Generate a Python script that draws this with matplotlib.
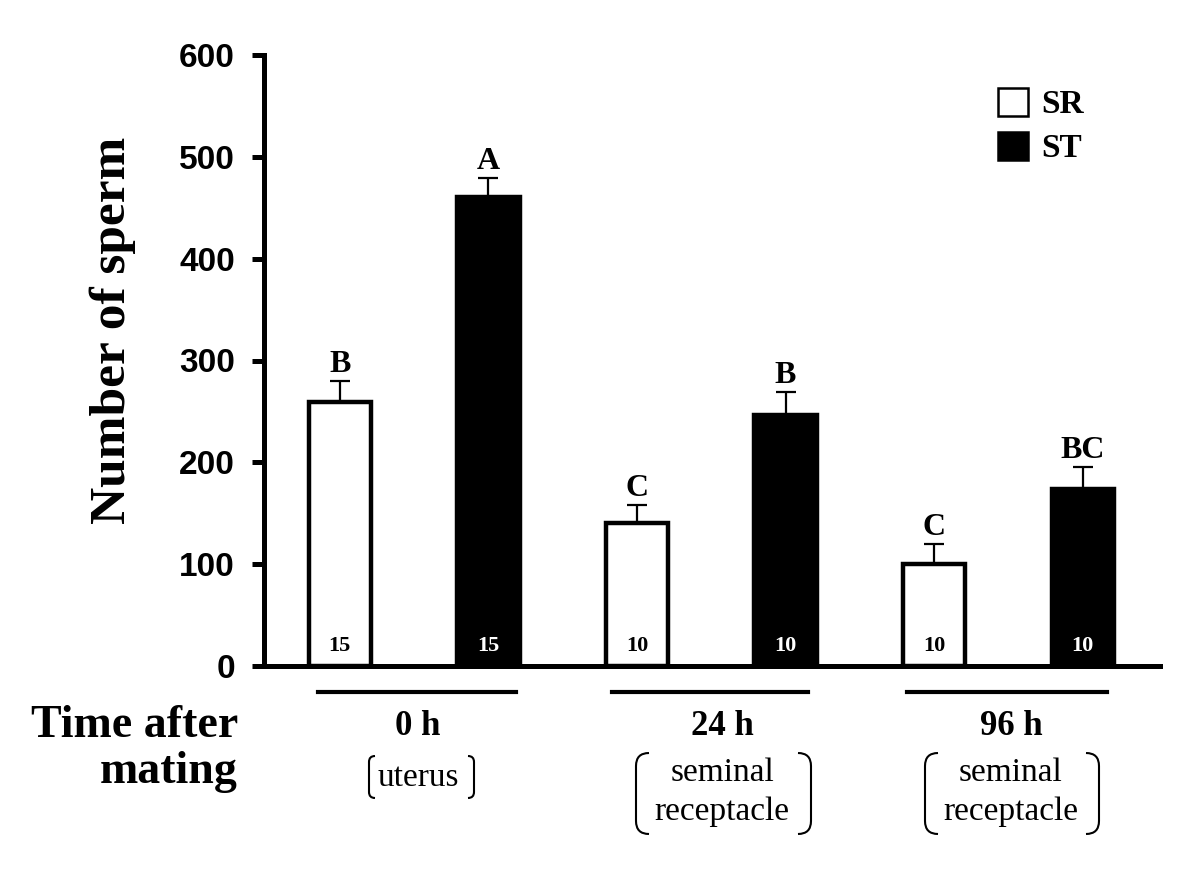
import matplotlib
matplotlib.use("Agg")
import matplotlib.pyplot as plt
from matplotlib.patches import Patch, PathPatch
from matplotlib.path import Path
from matplotlib.lines import Line2D

plt.rcParams['font.family'] = ['Liberation Serif', 'DejaVu Serif']

groups = ["0 h", "24 h", "96 h"]
sites = [["uterus"], ["seminal", "receptacle"], ["seminal", "receptacle"]]
series = ["SR", "ST"]
sr_mean = [259, 140, 100]
st_mean = [461, 246, 174]
sr_err = [21, 18, 20]
st_err = [18, 23, 21]
sr_letters = ["B", "C", "C"]
st_letters = ["A", "B", "BC"]
sr_n = [15, 10, 10]
st_n = [15, 10, 10]

W, H = 1200, 875
fig = plt.figure(figsize=(12, 8.75), dpi=100)

def fx(px):
    return px / W

def fy(py):
    return 1 - py / H

ax = fig.add_axes([fx(264), fy(666), fx(1160) - fx(264), fy(55) - fy(666)])

xs_sr = [0, 2, 4]
xs_st = [1, 3, 5]
bw = 0.42
ax.bar(xs_sr, sr_mean, width=bw, color="white", edgecolor="black", linewidth=3.2, zorder=3)
ax.bar(xs_st, st_mean, width=bw, color="black", edgecolor="black", linewidth=3.2, zorder=3)
ax.errorbar(xs_sr, sr_mean, yerr=[[0] * 3, sr_err], fmt="none", ecolor="black",
            elinewidth=1.6, capsize=7, capthick=1.6, zorder=2)
ax.errorbar(xs_st, st_mean, yerr=[[0] * 3, st_err], fmt="none", ecolor="black",
            elinewidth=1.6, capsize=7, capthick=1.6, zorder=2)

for x, m, e, l, n in zip(xs_sr, sr_mean, sr_err, sr_letters, sr_n):
    ax.text(x, m + e + 9, l, ha="center", va="baseline", fontsize=23, fontweight="bold")
    ax.text(x, 15, str(n), ha="center", va="baseline", fontsize=16, fontweight="bold", color="black", zorder=4)
for x, m, e, l, n in zip(xs_st, st_mean, st_err, st_letters, st_n):
    ax.text(x, m + e + 9, l, ha="center", va="baseline", fontsize=23, fontweight="bold")
    ax.text(x, 15, str(n), ha="center", va="baseline", fontsize=16, fontweight="bold", color="white", zorder=4)

ax.set_xlim(-0.51, 5.52)
ax.set_ylim(0, 600)
ax.set_yticks(range(0, 601, 100))
ax.set_xticks([])
for s in ["top", "right"]:
    ax.spines[s].set_visible(False)
for s in ["left", "bottom"]:
    ax.spines[s].set_linewidth(3.6)
ax.tick_params(axis="y", direction="out", length=9, width=3.6, pad=12)
for t in ax.get_yticklabels():
    t.set_fontfamily(["Liberation Sans", "DejaVu Sans"])
    t.set_fontweight("bold")
    t.set_fontsize(24)

fig.text(fx(113), fy(330), "Number of sperm", rotation=90, ha="center", va="center",
         fontsize=37, fontweight="bold")

handles = [Patch(facecolor="white", edgecolor="black", linewidth=1.8),
           Patch(facecolor="black", edgecolor="black", linewidth=1.8)]
ax.legend(handles, series, loc="upper left", bbox_to_anchor=(fx(998), fy(88)),
          bbox_transform=fig.transFigure, frameon=False, borderpad=0, borderaxespad=0,
          prop={"size": 24, "weight": "bold"}, handlelength=0.9, handleheight=0.9,
          handletextpad=0.4, labelspacing=0.35)

# group underlines
lines_px = [(318, 516), (612, 808), (907, 1107)]
for (a, b) in lines_px:
    fig.add_artist(Line2D([fx(a), fx(b)], [fy(692), fy(692)], color="black", lw=3))

centers = [418, 722, 1011]
for c, g in zip(centers, groups):
    fig.text(fx(c), fy(735), g, ha="center", va="baseline", fontsize=25, fontweight="bold")

fig.text(fx(238), fy(737), "Time after", ha="right", va="baseline", fontsize=33, fontweight="bold")
fig.text(fx(238), fy(783), "mating", ha="right", va="baseline", fontsize=33, fontweight="bold")


def bracket(xl, xr, yt, yb, r=7):
    for side in (-1, 1):
        x0 = xl if side == -1 else xr
        verts = [(x0 - side * r, yt), (x0, yt), (x0, yt + r), (x0, yb - r), (x0, yb), (x0 - side * r, yb)]
        codes = [Path.MOVETO, Path.CURVE3, Path.CURVE3, Path.LINETO, Path.CURVE3, Path.CURVE3]
        verts = [(fx(a), fy(b)) for a, b in verts]
        fig.add_artist(PathPatch(Path(verts, codes), fill=False, lw=1.5, color="black",
                                 transform=fig.transFigure))

# uterus
fig.text(fx(418), fy(786), sites[0][0], ha="center", va="baseline", fontsize=24)
bracket(369, 474, 756, 798, r=6)
for c, (xl, xr) in zip(centers[1:], [(636, 811), (925, 1099)]):
    fig.text(fx(c), fy(781), "seminal", ha="center", va="baseline", fontsize=24)
    fig.text(fx(c), fy(820), "receptacle", ha="center", va="baseline", fontsize=24)
    bracket(xl, xr, 753, 834, r=13)

fig.savefig("out.png", dpi=100)
